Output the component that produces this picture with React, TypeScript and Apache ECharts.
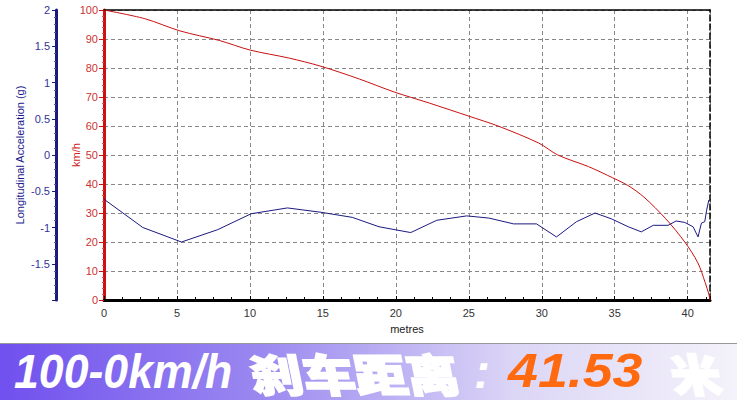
import React, { useEffect, useRef } from "react";
import * as echarts from "echarts";

const speedDist = [0, 2.8, 5.2, 7.9, 10, 12.7, 14.8, 17.5, 19.9, 22.3, 25, 27, 29.8, 31.1, 33.2, 34.5, 35.9, 37, 38.5, 39.8, 40.7, 41.2, 41.45, 41.53];
const speedKmh = [100, 97, 92.8, 89.5, 86.2, 83.4, 80.7, 76.2, 71.7, 67.9, 63.4, 60, 54.1, 50, 46, 43, 39.5, 35.5, 28, 20, 12.8, 6, 2, 0];

const accelDist = [0, 2.66, 5.31, 7.79, 10.09, 12.57, 14.87, 17.01, 18.85, 21.02, 22.81, 24.86, 26.37, 28.07, 29.64, 31.01, 32.38, 33.65, 34.77, 35.93, 36.82, 37.64, 38.66, 39.21, 39.8, 40.37, 40.71, 40.94, 41.17, 41.3, 41.45];
const accelG = [-0.61, -1.0, -1.2, -1.03, -0.81, -0.73, -0.79, -0.86, -0.99, -1.07, -0.9, -0.84, -0.87, -0.95, -0.95, -1.13, -0.92, -0.8, -0.88, -0.99, -1.06, -0.97, -0.97, -0.91, -0.93, -0.99, -1.13, -0.94, -0.92, -0.76, -0.62];

const distMax = 41.53;
const titleMain = "100-0km/h";
const titleCn = "刹车距离";
const titleColon = ":";
const titleValue = "41.53";
const titleUnit = "米";

export default function App() {
  const ref = useRef<HTMLDivElement>(null);
  useEffect(() => {
    if (!ref.current) return;
    const chart = echarts.init(ref.current, null, { renderer: "svg" });
    const font = "'Liberation Sans', Arial, sans-serif";
    const cjk = "'Noto Sans CJK SC', sans-serif";
    const titleStyle = {
      fill: "#ffffff",
      fontFamily: font,
      fontWeight: "bold",
      fontStyle: "italic",
      fontSize: 48,
      lineHeight: 48,
      verticalAlign: "middle",
      shadowColor: "rgba(40,40,60,0.75)",
      shadowBlur: 2,
      shadowOffsetX: 2,
      shadowOffsetY: 2,
    };
    const cjkStyle = {
      ...titleStyle,
      fontFamily: cjk,
      fontStyle: "normal",
      fontWeight: 900,
      fontSize: 40,
      lineHeight: 40,
      stroke: "#ffffff",
      lineWidth: 1.5,
    };
    chart.setOption({
      animation: false,
      backgroundColor: "#ffffff",
      grid: { left: 104, top: 10, right: 27, bottom: 100, containLabel: false },
      xAxis: [
        {
          type: "value",
          min: 0,
          max: distMax,
          interval: 5,
          name: "metres",
          nameLocation: "middle",
          nameGap: 23,
          nameMoveOverlap: false,
          nameTextStyle: { color: "#222", fontSize: 11, fontFamily: font },
          axisLine: { show: true, onZero: false, lineStyle: { color: "#000", width: 3 } },
          axisTick: { show: true, inside: true, length: 4, lineStyle: { color: "#000" } },
          minorTick: { show: true, splitNumber: 4, length: 3, lineStyle: { color: "#000" } },
          axisLabel: { color: "#333", fontSize: 11, fontFamily: font, margin: 7, showMaxLabel: false },
          splitLine: { show: true, lineStyle: { color: "#888", type: [4, 3], width: 1 } },
        },
        {
          type: "value",
          position: "top",
          min: 0,
          max: distMax,
          axisLine: { show: true, onZero: false, lineStyle: { color: "#000", width: 1.5 } },
          axisTick: { show: false },
          axisLabel: { show: false },
          splitLine: { show: false },
        },
      ],
      yAxis: [
        {
          type: "value",
          position: "left",
          min: 0,
          max: 100,
          interval: 10,
          name: "km/h",
          nameLocation: "middle",
          nameGap: 23,
          nameMoveOverlap: false,
          nameRotate: 90,
          nameTextStyle: { color: "#cc2222", fontSize: 11, fontFamily: font },
          axisLine: { show: true, onZero: false, lineStyle: { color: "#cc1111", width: 3 } },
          axisTick: { show: true, length: 5, lineStyle: { color: "#cc1111" } },
          minorTick: { show: true, splitNumber: 5, length: 2, lineStyle: { color: "#cc5555" } },
          axisLabel: { color: "#cc3333", fontSize: 11, fontFamily: font, margin: 6 },
          splitLine: { show: true, lineStyle: { color: "#888", type: [4, 3], width: 1 } },
        },
        {
          type: "value",
          position: "left",
          offset: 48,
          min: -2,
          max: 2,
          interval: 0.5,
          name: "Longitudinal Acceleration (g)",
          nameLocation: "middle",
          nameGap: 31,
          nameMoveOverlap: false,
          nameRotate: 90,
          nameTextStyle: { color: "#1a1a8c", fontSize: 11, fontFamily: font },
          axisLine: { show: true, onZero: false, lineStyle: { color: "#1a1a80", width: 3 } },
          axisTick: { show: true, length: 4, lineStyle: { color: "#1a1a80" } },
          minorTick: { show: true, splitNumber: 5, length: 2, lineStyle: { color: "#5555aa" } },
          axisLabel: { color: "#333399", fontSize: 11, fontFamily: font, margin: 6, showMinLabel: false },
          splitLine: { show: false },
        },
        {
          type: "value",
          position: "right",
          min: 0,
          max: 100,
          axisLine: { show: true, onZero: false, lineStyle: { color: "#000", width: 1.5, type: [6, 3] } },
          axisTick: { show: false },
          axisLabel: { show: false },
          splitLine: { show: false },
        },
      ],
      series: [
        {
          type: "line",
          xAxisIndex: 0,
          yAxisIndex: 0,
          data: speedDist.map((d, i) => [d, speedKmh[i]]),
          showSymbol: false,
          smooth: 0.3,
          lineStyle: { color: "#c81010", width: 1 },
        },
        {
          type: "line",
          xAxisIndex: 0,
          yAxisIndex: 1,
          data: accelDist.map((d, i) => [d, accelG[i]]),
          showSymbol: false,
          lineStyle: { color: "#1a1a80", width: 1 },
        },
      ],
      graphic: [
        {
          type: "line",
          shape: { x1: 0, y1: 343.5, x2: 737, y2: 343.5 },
          style: { stroke: "#999", lineWidth: 1 },
        },
        {
          type: "rect",
          shape: { x: 0, y: 344, width: 737, height: 56 },
          style: {
            fill: new echarts.graphic.LinearGradient(0, 0, 1, 0, [
              { offset: 0, color: "#7050ee" },
              { offset: 0.35, color: "#9a88f0" },
              { offset: 0.7, color: "#dcd6f6" },
              { offset: 1, color: "#f4f2fa" },
            ]),
          },
        },
        {
          type: "text",
          x: 14,
          y: 371,
          scaleX: 0.93,
          style: { ...titleStyle, text: titleMain },
        },
        {
          type: "text",
          x: 250,
          y: 372,
          skewX: 0.2,
          scaleX: 1.3,
          scaleY: 1.12,
          style: { ...cjkStyle, text: titleCn },
        },
        {
          type: "text",
          x: 474,
          y: 371,
          style: { ...titleStyle, text: titleColon },
        },
        {
          type: "text",
          x: 508,
          y: 371,
          scaleX: 1.12,
          style: { ...titleStyle, fill: "#ff6a10", text: titleValue, shadowColor: "rgba(120,60,20,0.35)" },
        },
        {
          type: "text",
          x: 670,
          y: 372,
          skewX: 0.2,
          scaleX: 1.25,
          scaleY: 1.12,
          style: { ...cjkStyle, text: titleUnit },
        },
      ],
    });
    return () => chart.dispose();
  }, []);
  return <div ref={ref} style={{ position: "fixed", left: 0, top: 0, width: 737, height: 400 }} />;
}
